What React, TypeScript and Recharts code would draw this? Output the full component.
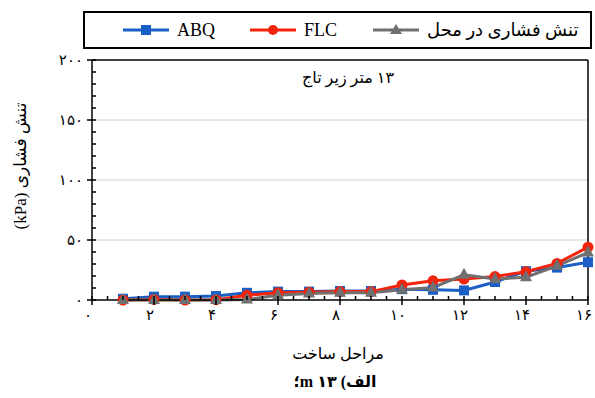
import { LineChart, Line, XAxis, YAxis, ReferenceLine } from 'recharts'

const stages = [1, 2, 3, 4, 5, 6, 7, 8, 9, 10, 11, 12, 13, 14, 15, 16]
const abq = [1, 2.8, 2.8, 3.3, 6, 7, 7, 7.5, 7.5, 9, 8.5, 8, 15, 24, 27, 31.5]
const flc = [0, 0.5, 0, 0.3, 4, 6, 6.5, 7, 7, 12.5, 16, 17.5, 19.5, 23.5, 30.5, 44]
const inSitu = [0, 0, 0, 0, 0.5, 4, 5.5, 6, 6, 8.5, 10.5, 21, 17.5, 19, 28.5, 39.5]

const xMajorTicks = [0, 2, 4, 6, 8, 10, 12, 14, 16]
const yMajorTicks = [0, 50, 100, 150, 200]
const gridValues = [50, 100, 150]

const xAllTicks = Array.from({ length: 33 }, (_, i) => i * 0.5)
const yAllTicks = Array.from({ length: 21 }, (_, i) => i * 10)

const seriesNames = { abq: 'ABQ', flc: 'FLC', inSitu: 'تنش فشاری در محل' }
const colors = { abq: '#1a5fc6', flc: '#f2240c', inSitu: '#707070' }

const chartData = stages.map((s, i) => ({ stage: s, abq: abq[i], flc: flc[i], inSitu: inSitu[i] }))

const FONT = "'Liberation Serif', 'DejaVu Sans', serif"
const fa = (n: number) => String(n).replace(/\d/g, (d) => '۰۱۲۳۴۵۶۷۸۹'[+d])

const XTick = ({ x, y, payload }: any) => {
  const v = payload.value
  const major = xMajorTicks.includes(v)
  return (
    <g>
      {major ? (
        <line x1={x} x2={x} y1={y - 4} y2={y + 5} stroke="#000" strokeWidth={1.5} />
      ) : (
        <line x1={x} x2={x} y1={y} y2={y - 4} stroke="#000" strokeWidth={1.5} />
      )}
      {major && (
        <text x={x - 4} y={y + 20} textAnchor="middle" fontSize={15} fill="#000" fontFamily={FONT}>
          {fa(v)}
        </text>
      )}
    </g>
  )
}

const YTick = ({ x, y, payload }: any) => {
  const v = payload.value
  const major = yMajorTicks.includes(v)
  return (
    <g>
      {major ? (
        <line x1={x - 5} x2={x + 4} y1={y} y2={y} stroke="#000" strokeWidth={1.5} />
      ) : (
        <line x1={x} x2={x + 4} y1={y} y2={y} stroke="#000" strokeWidth={1.5} />
      )}
      {major && (
        <text x={x - 9} y={y + 5} textAnchor="end" fontSize={15} fill="#000" fontFamily={FONT}>
          {fa(v)}
        </text>
      )}
    </g>
  )
}

const Square = ({ cx, cy, color }: any) =>
  cx == null ? null : <rect x={cx - 5} y={cy - 5} width={10} height={10} fill={color} />
const Circle = ({ cx, cy, color }: any) =>
  cx == null ? null : <circle cx={cx} cy={cy} r={5.5} fill={color} />
const Triangle = ({ cx, cy, color }: any) =>
  cx == null ? null : <polygon points={`${cx},${cy - 7} ${cx - 6},${cy + 4} ${cx + 6},${cy + 4}`} fill={color} />

const legendItems = [
  { name: seriesNames.abq, color: colors.abq, shape: 'square', left: 38 },
  { name: seriesNames.flc, color: colors.flc, shape: 'circle', left: 165 },
  { name: seriesNames.inSitu, color: colors.inSitu, shape: 'triangle', left: 288 },
]

function LegendBox() {
  return (
    <div
      style={{
        position: 'absolute',
        left: 83,
        top: 11,
        width: 505,
        height: 34,
        border: '2px solid #000',
        fontFamily: FONT,
      }}
    >
      {legendItems.map((it) => (
        <div key={it.name} style={{ position: 'absolute', left: it.left, top: 2, height: 30, display: 'flex', alignItems: 'center' }}>
          <svg width={46} height={14} style={{ marginRight: 8 }}>
            <line x1={0} x2={46} y1={7} y2={7} stroke={it.color} strokeWidth={3} />
            {it.shape === 'square' && <rect x={18} y={2} width={10} height={10} fill={it.color} />}
            {it.shape === 'circle' && <circle cx={23} cy={7} r={5} fill={it.color} />}
            {it.shape === 'triangle' && <polygon points="23,1 17,11 29,11" fill={it.color} />}
          </svg>
          <span style={{ fontSize: 18, color: '#000', direction: 'rtl', whiteSpace: 'nowrap' }}>{it.name}</span>
        </div>
      ))}
    </div>
  )
}

export default function App() {
  return (
    <div style={{ position: 'absolute', left: 0, top: 0, width: 595, height: 398, background: '#fff', fontFamily: FONT }}>
      <LineChart width={595} height={398} data={chartData} margin={{ top: 60, right: 7, bottom: 68, left: 32 }}>
        <XAxis
          dataKey="stage"
          type="number"
          domain={[0, 16]}
          ticks={xAllTicks}
          interval={0}
          tick={<XTick />}
          tickLine={false}
          tickSize={0}
          tickMargin={0}
          height={30}
          axisLine={{ stroke: '#000', strokeWidth: 1.5 }}
        />
        <YAxis
          type="number"
          domain={[0, 200]}
          ticks={yAllTicks}
          interval={0}
          tick={<YTick />}
          tickLine={false}
          tickSize={0}
          tickMargin={0}
          width={60}
          axisLine={{ stroke: '#000', strokeWidth: 1.5 }}
        />
        {gridValues.map((g) => (
          <ReferenceLine key={g} y={g} stroke="#d0d0d0" strokeWidth={1} />
        ))}
        <ReferenceLine y={200} stroke="#000" strokeWidth={1.5} />
        <ReferenceLine x={16} stroke="#000" strokeWidth={1.5} />
        <Line
          dataKey="abq"
          name={seriesNames.abq}
          stroke={colors.abq}
          strokeWidth={3}
          dot={<Square color={colors.abq} />}
          activeDot={false}
          isAnimationActive={false}
        />
        <Line
          dataKey="flc"
          name={seriesNames.flc}
          stroke={colors.flc}
          strokeWidth={3}
          dot={<Circle color={colors.flc} />}
          activeDot={false}
          isAnimationActive={false}
        />
        <Line
          dataKey="inSitu"
          name={seriesNames.inSitu}
          stroke={colors.inSitu}
          strokeWidth={3}
          dot={<Triangle color={colors.inSitu} />}
          activeDot={false}
          isAnimationActive={false}
        />
      </LineChart>

      <LegendBox />

      <div style={{ position: 'absolute', left: 248, top: 68, width: 200, textAlign: 'center', fontSize: 16, direction: 'rtl' }}>
        ۱۳ متر زیر تاج
      </div>

      <div
        style={{
          position: 'absolute',
          left: 20,
          top: 166,
          transform: 'translate(-50%, -50%) rotate(-90deg)',
          fontSize: 17,
          direction: 'rtl',
          whiteSpace: 'nowrap',
        }}
      >
        تنش فشاری (kPa)
      </div>

      <div style={{ position: 'absolute', left: 238, top: 344, width: 200, textAlign: 'center', fontSize: 16, direction: 'rtl' }}>
        مراحل ساخت
      </div>

      <div style={{ position: 'absolute', left: 235, top: 372, width: 200, textAlign: 'center', fontSize: 16, fontWeight: 'bold', direction: 'rtl' }}>
        الف) ۱۳ m؛
      </div>
    </div>
  )
}
